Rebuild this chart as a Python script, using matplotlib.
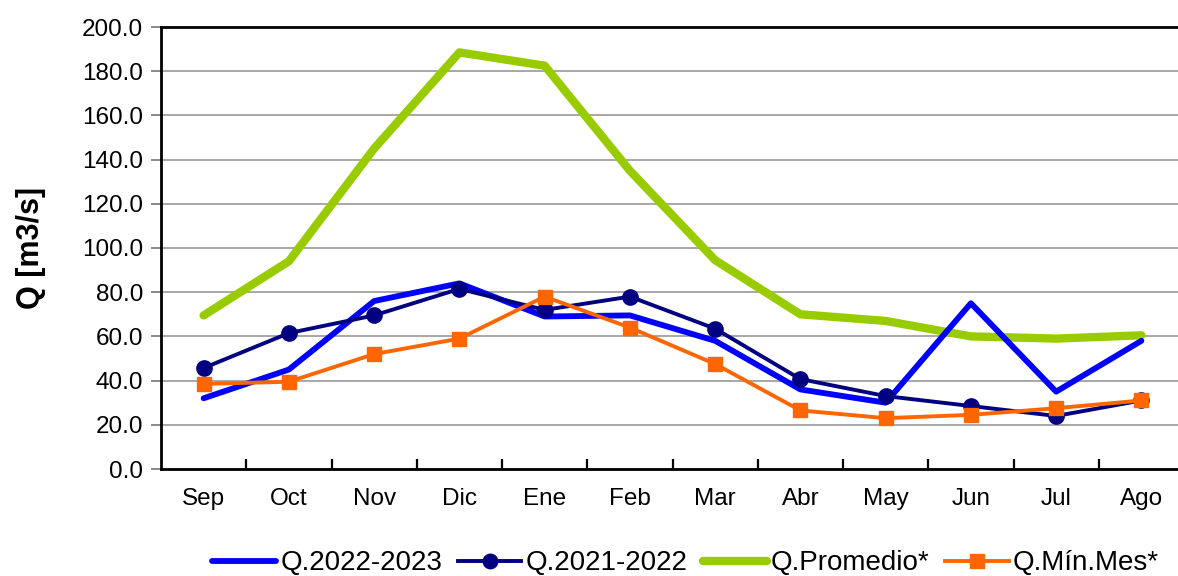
import matplotlib
matplotlib.use("Agg")
import matplotlib.pyplot as plt
from matplotlib.ticker import FixedLocator, FormatStrFormatter

plt.rcParams["font.family"] = ["Liberation Sans", "DejaVu Sans"]

meses = ["Sep", "Oct", "Nov", "Dic", "Ene", "Feb", "Mar", "Abr", "May", "Jun", "Jul", "Ago"]
q_2022_2023 = [32.0, 45.0, 76.0, 84.0, 69.0, 69.5, 58.0, 36.0, 30.0, 75.0, 35.0, 58.0]
q_2021_2022 = [45.7, 61.5, 69.5, 81.5, 72.0, 78.0, 63.5, 40.7, 33.0, 28.5, 24.0, 31.0]
q_promedio = [69.5, 94.0, 145.0, 188.5, 182.5, 135.0, 94.5, 70.0, 67.0, 60.0, 59.0, 60.5]
q_min_mes = [38.5, 39.5, 52.0, 59.0, 78.0, 64.0, 47.5, 26.5, 23.0, 24.5, 27.5, 31.0]

x = list(range(len(meses)))

fig = plt.figure(figsize=(11.78, 5.76), dpi=100)
ax = fig.add_axes([161 / 1178, 107 / 576, 1023 / 1178, 442 / 576])

ax.plot(x, q_promedio, color="#99CC00", linewidth=6, solid_capstyle="round",
        label="Q.Promedio*", zorder=3)
ax.plot(x, q_2022_2023, color="#0000FF", linewidth=4.2, solid_capstyle="round",
        label="Q.2022-2023", zorder=4)
ax.plot(x, q_2021_2022, color="#000080", linewidth=2.8, marker="o", markersize=11,
        label="Q.2021-2022", zorder=5)
ax.plot(x, q_min_mes, color="#FF6600", linewidth=2.8, marker="s", markersize=10,
        label="Q.Mín.Mes*", zorder=6)

ax.set_xlim(-0.5, len(meses) - 0.5)
ax.set_ylim(0, 200)
ax.set_yticks(range(0, 201, 20))
ax.yaxis.set_major_formatter(FormatStrFormatter("%.1f"))
ax.grid(axis="y", color="#A0A0A0", linewidth=1.3, zorder=0)
ax.set_axisbelow(True)

ax.set_xticks(x)
ax.set_xticklabels(meses)
ax.xaxis.set_minor_locator(FixedLocator([i + 0.5 for i in x[:-1]]))
ax.tick_params(axis="x", which="major", length=0, pad=14, labelsize=17.5)
ax.tick_params(axis="x", which="minor", direction="in", length=7, width=1.6, color="black")
ax.tick_params(axis="y", length=7, width=1.3, color="#808080", pad=6, labelsize=17.5)

for side in ["left", "bottom", "top"]:
    ax.spines[side].set_linewidth(2.0)
ax.spines["right"].set_visible(False)

ax.set_ylabel("Q [m3/s]", fontsize=22, fontweight="bold")
ax.yaxis.set_label_coords(-0.112, 0.5)

h, l = ax.get_legend_handles_labels()
order = [1, 2, 0, 3]
fig.legend([h[i] for i in order], [l[i] for i in order], loc="center",
           bbox_to_anchor=(0.582, 0.022), ncol=4, frameon=False, fontsize=20,
           handlelength=2.3, handletextpad=0.15, columnspacing=0.55,
           markerscale=0.95)

fig.savefig("out.png", dpi=100)
